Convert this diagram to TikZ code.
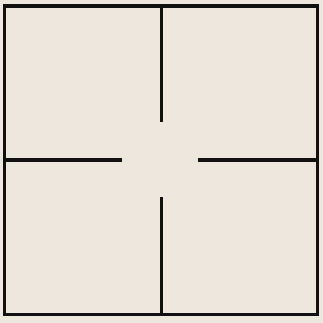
\documentclass[tikz,border=0pt]{standalone}
\definecolor{paper}{HTML}{EDE7DD}
\definecolor{ink}{HTML}{111111}
\begin{document}
\begin{tikzpicture}[x=0.01cm,y=-0.01cm,wall/.style={draw=ink,line width=0.035cm,line cap=butt}]
\fill[paper] (0,0) rectangle (323,323);
\useasboundingbox (0,0) rectangle (323,323);
\draw[wall,line join=miter] (4.5,6) rectangle (317.5,314.5);
\draw[wall] (161.5,6) -- (161.5,122);
\draw[wall] (161.5,197) -- (161.5,314.5);
\draw[wall] (4.5,160) -- (122,160);
\draw[wall] (198,160) -- (317.5,160);
\end{tikzpicture}
\end{document}
